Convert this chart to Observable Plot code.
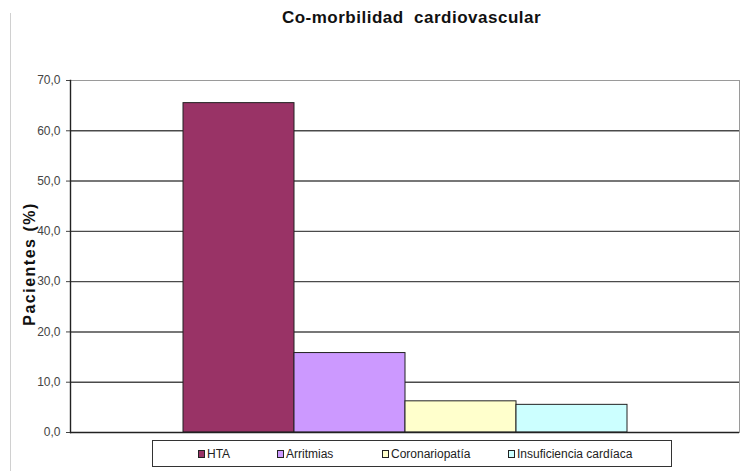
<!DOCTYPE html>
<html><head><meta charset="utf-8">
<script src="https://cdn.jsdelivr.net/npm/d3@7"></script>
<script src="https://cdn.jsdelivr.net/npm/@observablehq/plot@0.6"></script>
<style>
body{margin:0;background:#fff;font-family:"Liberation Sans",Arial,sans-serif;}
#wrap{position:relative;width:747px;height:471px;overflow:hidden;background:#fff}
#outer{position:absolute;left:10px;top:13px;bottom:0;border-left:1px solid #d0d0d0}
#title{position:absolute;top:8px;left:38px;width:747px;text-align:center;font-weight:bold;font-size:17px;letter-spacing:0.5px;white-space:pre;color:#111}
#ylab{position:absolute;left:30px;top:264px;transform:translate(-50%,-50%) rotate(-90deg);font-weight:bold;font-size:16px;letter-spacing:1.5px;white-space:nowrap;color:#111}
#chart{position:absolute;left:0;top:0}
#legend{position:absolute;left:152px;top:440px;width:518px;height:25px;border:1px solid #333;font-size:12px;color:#222;background:#fff}
.item{position:absolute;top:0;height:25px;display:flex;align-items:center}
.sw{width:5px;height:6px;border:1px solid #222;margin-right:2px}
</style></head>
<body>
<div id="wrap">
  <div id="outer"></div>
  <div id="chart"></div>
  <div id="title"></div>
  <div id="ylab"></div>
  <div id="legend"></div>
</div>
<script>
const titleText = "Co-morbilidad  cardiovascular";
const yLabel = "Pacientes (%)";
const categories = ["HTA", "Arritmias", "Coronariopatía", "Insuficiencia cardíaca"];
const values = [65.5, 15.8, 6.2, 5.5];
const yTicks = [0, 10, 20, 30, 40, 50, 60, 70];
const colors = ["#993366", "#cc99ff", "#ffffcc", "#ccffff"];
const legendOffsets = [45, 124, 229, 355];

const data = categories.map((c, i) => ({cat: c, value: values[i]}));
const fmt = d => d.toFixed(1).replace(".", ",");

const plot = Plot.plot({
  width: 747, height: 440,
  marginTop: 80, marginBottom: 8, marginLeft: 70, marginRight: 8,
  style: {fontFamily: "'Liberation Sans', Arial, sans-serif", fontSize: "12px", color: "#444", background: "transparent"},
  x: {domain: categories, paddingInner: 0, paddingOuter: 1, axis: null},
  y: {domain: [0, 70], ticks: yTicks, tickFormat: fmt, tickSize: 4, tickPadding: 6, label: null},
  color: {domain: categories, range: colors},
  marks: [
    Plot.frame({stroke: "#9a9a9a"}),
    Plot.ruleY(yTicks.filter(t => t > 0 && t < 70), {stroke: "#4a4a4a", strokeWidth: 1.4}),
    Plot.barY(data, {x: "cat", y: "value", fill: "cat", stroke: "#222", strokeWidth: 1}),
    Plot.ruleY([0], {stroke: "#222", strokeWidth: 1.4}),
    Plot.frame({anchor: "left", stroke: "#222", strokeWidth: 1.4})
  ]
});
document.getElementById("chart").appendChild(plot);
document.getElementById("title").textContent = titleText;
document.getElementById("ylab").textContent = yLabel;

const legend = document.getElementById("legend");
categories.forEach((c, i) => {
  const it = document.createElement("div");
  it.className = "item";
  it.style.left = legendOffsets[i] + "px";
  const sw = document.createElement("span");
  sw.className = "sw";
  sw.style.background = colors[i];
  const tx = document.createElement("span");
  tx.textContent = c;
  it.appendChild(sw); it.appendChild(tx);
  legend.appendChild(it);
});
</script>
</body></html>
